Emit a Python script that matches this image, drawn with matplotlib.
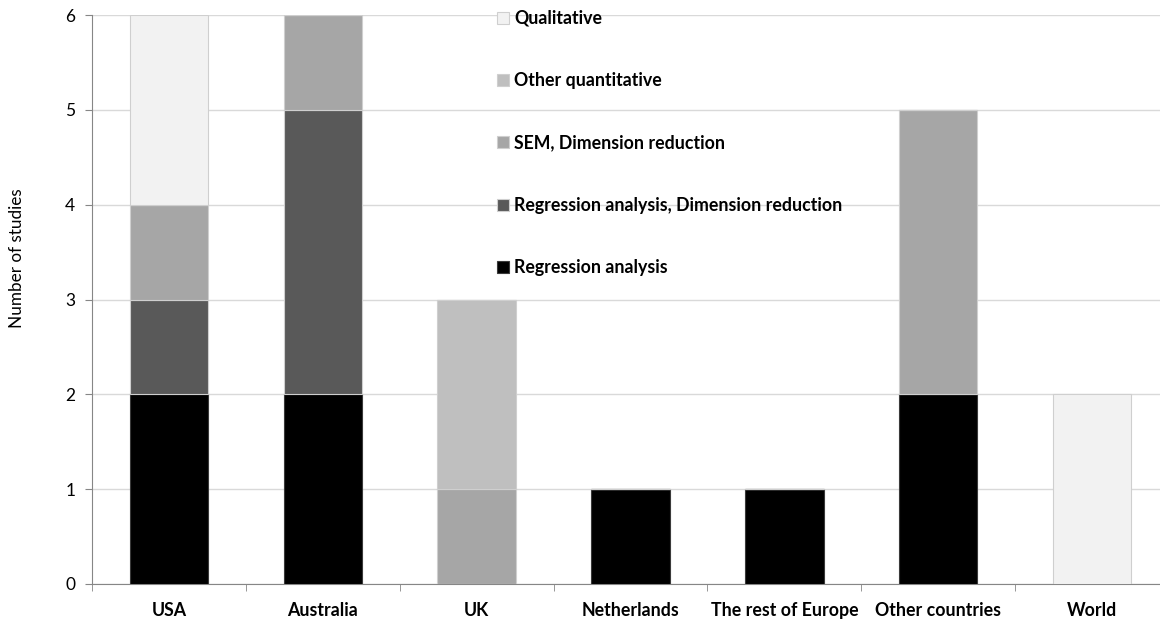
import numpy as np
import matplotlib.pyplot as plt
from matplotlib.ticker import FixedLocator, NullFormatter

plt.rcParams['font.family'] = ['Lato', 'DejaVu Sans']

countries = ['USA', 'Australia', 'UK', 'Netherlands', 'The rest of Europe',
             'Other countries', 'World']
methods = ['Regression analysis', 'Regression analysis, Dimension reduction',
           'SEM, Dimension reduction', 'Other quantitative', 'Qualitative']
regression = [2, 2, 0, 1, 1, 2, 0]
regression_dimred = [1, 3, 0, 0, 0, 0, 0]
sem_dimred = [1, 1, 1, 0, 0, 3, 0]
other_quant = [0, 0, 2, 0, 0, 0, 0]
qualitative = [2, 0, 0, 0, 0, 0, 2]
colors = ['#000000', '#595959', '#a6a6a6', '#bfbfbf', '#f2f2f2']

series = [regression, regression_dimred, sem_dimred, other_quant, qualitative]

fig = plt.figure(figsize=(11.6, 6.21), dpi=100)
# plot area runs slightly past the right edge of the canvas
ax = fig.add_axes([92 / 1160, 1 - 584 / 621, 1077 / 1160, 569 / 621])

x = np.arange(len(countries))
bottom = np.zeros(len(countries))
handles = []
for vals, name, col in zip(series, methods, colors):
    vals = np.array(vals, dtype=float)
    edge = '#3a3a3a' if col == '#000000' else '#cfcfcf'
    bars = ax.bar(x, vals, 0.51, bottom=bottom, color=col, edgecolor=edge,
                  linewidth=0.8, label=name, zorder=3)
    handles.append(bars)
    bottom += vals

ax.set_xlim(-0.5, len(countries) - 0.5)
ax.set_ylim(0, 6)
ax.set_yticks(range(7))
ax.tick_params(axis='y', labelsize=12.5, length=5, color='#868686', pad=7)
ax.yaxis.grid(True, color='#d9d9d9', linewidth=1, zorder=0)
ax.set_axisbelow(True)

ax.set_xticks(x)
ax.set_xticklabels(countries, fontweight='bold', fontsize=12.8)
ax.tick_params(axis='x', which='major', length=0, pad=13)
ax.xaxis.set_minor_locator(FixedLocator(np.arange(-0.5, len(countries), 1)))
ax.xaxis.set_minor_formatter(NullFormatter())
ax.tick_params(axis='x', which='minor', length=5, color='#868686')

for side in ['top', 'right']:
    ax.spines[side].set_visible(False)
for side in ['left', 'bottom']:
    ax.spines[side].set_color('#868686')

ax.set_ylabel('Number of studies', fontsize=12.3)
ax.yaxis.set_label_coords(-0.0622, 0.573)

leg = ax.legend(handles[::-1], methods[::-1], loc='upper left',
                bbox_to_anchor=(497 / 1160, 1 - 10 / 621),
                bbox_transform=fig.transFigure, frameon=False,
                prop={'weight': 'bold', 'size': 12.8}, handlelength=0.65,
                handleheight=0.65, handletextpad=0.3, labelspacing=2.55,
                borderpad=0, borderaxespad=0)

fig.savefig('out.png', dpi=100)
